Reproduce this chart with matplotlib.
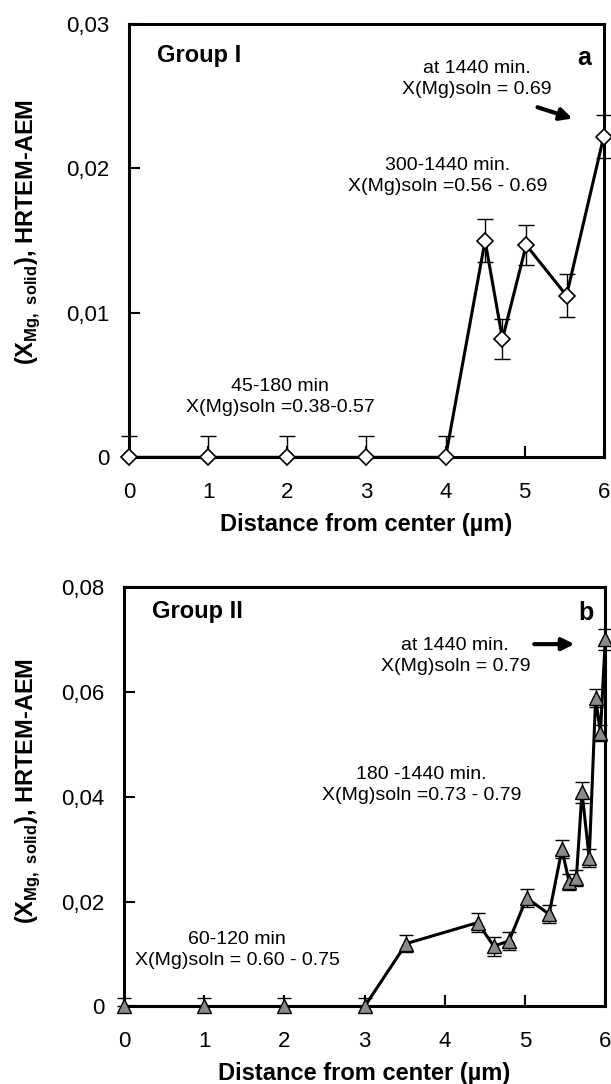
import numpy as np
import matplotlib
matplotlib.use("Agg")
import matplotlib.pyplot as plt
from matplotlib.ticker import FuncFormatter

plt.rcParams['font.family'] = ['Liberation Sans', 'DejaVu Sans']
plt.rcParams['mathtext.fontset'] = 'custom'
plt.rcParams['mathtext.rm'] = 'Liberation Sans'
plt.rcParams['mathtext.bf'] = 'Liberation Sans:bold'

# panel a - Group I
xa = [0, 1, 2, 3, 4, 4.5, 4.72, 5.02, 5.53, 6.0]
ya = [0, 0, 0, 0, 0, 0.0150, 0.0082, 0.0147, 0.0112, 0.0222]
ea = [0.0015, 0.0015, 0.0015, 0.0015, 0.0015, 0.0015, 0.0014, 0.0014, 0.0015, 0.0015]

# panel b - Group II
xb = [0, 1, 2, 3, 3.52, 4.41, 4.61, 4.80, 5.02, 5.30, 5.46, 5.55, 5.64,
      5.71, 5.80, 5.88, 5.94, 6.0]
yb = [0, 0, 0, 0, 0.0120, 0.0160, 0.0115, 0.0125, 0.0207, 0.0176, 0.0300,
      0.0237, 0.0245, 0.0409, 0.0283, 0.0588, 0.0522, 0.0700]
eb = [0.0017, 0.0017, 0.0017, 0.0017, 0.0017, 0.0018, 0.0018, 0.0018, 0.0017,
      0.0017, 0.0017, 0.0015, 0.0015, 0.0020, 0.0017, 0.0017, 0.0015, 0.0020]

xticks = [0, 1, 2, 3, 4, 5, 6]


def comma(v, pos):
    if abs(v) < 1e-12:
        return '0'
    return ('%.2f' % v).replace('.', ',')


fig = plt.figure(figsize=(6.11, 10.84), dpi=100)
ax1 = fig.add_axes([0.2116, 0.5781, 0.7764, 0.3997])
ax2 = fig.add_axes([0.2029, 0.0715, 0.7877, 0.3870])

for ax in (ax1, ax2):
    for s in ax.spines.values():
        s.set_linewidth(2.2)
    ax.set_xlim(0, 6)
    ax.set_xticks(xticks)
    ax.tick_params(direction='in', length=8, width=1.5, labelsize=16)
    ax.tick_params(axis='x', pad=18)
    ax.tick_params(axis='y', pad=14)
    ax.yaxis.set_major_formatter(FuncFormatter(comma))
    ax.set_xlabel('Distance from center (µm)', fontsize=17, fontweight='bold', labelpad=7)
    ax.set_ylabel('(X$_{\\mathbf{Mg,\\ solid}}$), HRTEM-AEM', fontsize=17, fontweight='bold')

ax1.yaxis.set_label_coords(-0.184, 0.52)
ax2.yaxis.set_label_coords(-0.170, 0.514)

# panel a
ax1.set_ylim(0, 0.03)
ax1.set_yticks([0, 0.01, 0.02, 0.03])
lo_a = [min(e, y) for e, y in zip(ea, ya)]
ax1.errorbar(xa, ya, yerr=[lo_a, ea], fmt='none', ecolor='black', elinewidth=1, capsize=6, capthick=1, clip_on=False)
ax1.plot(xa, ya, color='black', lw=2.2, marker='D', ms=8, mfc='white', mec='black', mew=1.2, clip_on=False, zorder=5)
ax1.text(0.35, 0.02785, 'Group I', fontsize=17, fontweight='bold', ha='left', va='center')
ax1.text(5.75, 0.02765, 'a', fontsize=18, fontweight='bold', ha='center', va='center')
ax1.text(4.4, 0.0262, 'at 1440 min.\nX(Mg)soln = 0.69', fontsize=14, ha='center', va='center', linespacing=1.3)
ax1.annotate('', xy=(5.64, 0.0234), xytext=(5.13, 0.0243),
             arrowprops=dict(arrowstyle='-|>', color='black', lw=3, mutation_scale=18))
ax1.text(4.03, 0.0195, '300-1440 min.\nX(Mg)soln =0.56 - 0.69', fontsize=14, ha='center', va='center', linespacing=1.3)
ax1.text(1.91, 0.0042, '45-180 min\nX(Mg)soln =0.38-0.57', fontsize=14, ha='center', va='center', linespacing=1.3)

# panel b
ax2.set_ylim(0, 0.08)
ax2.set_yticks([0, 0.02, 0.04, 0.06, 0.08])
lo_b = [min(e, y) for e, y in zip(eb, yb)]
ax2.errorbar(xb, yb, yerr=[lo_b, eb], fmt='none', ecolor='black', elinewidth=1, capsize=5, capthick=1, clip_on=False)
ax2.plot(xb, yb, color='black', lw=2.2, marker='^', ms=10, mfc='#8a8a8a', mec='black', mew=1.0, clip_on=False, zorder=5)
ax2.text(0.35, 0.0754, 'Group II', fontsize=17, fontweight='bold', ha='left', va='center')
ax2.text(5.76, 0.0750, 'b', fontsize=18, fontweight='bold', ha='center', va='center')
ax2.text(4.13, 0.0668, 'at 1440 min.\nX(Mg)soln = 0.79', fontsize=14, ha='center', va='center', linespacing=1.3)
ax2.annotate('', xy=(5.65, 0.0691), xytext=(5.08, 0.0691),
             arrowprops=dict(arrowstyle='-|>', color='black', lw=3, mutation_scale=18))
ax2.text(3.71, 0.0423, '180 -1440 min.\nX(Mg)soln =0.73 - 0.79', fontsize=14, ha='center', va='center', linespacing=1.3)
ax2.text(1.41, 0.0108, '60-120 min\nX(Mg)soln = 0.60 - 0.75', fontsize=14, ha='center', va='center', linespacing=1.3)

fig.savefig('out.png', dpi=100)
